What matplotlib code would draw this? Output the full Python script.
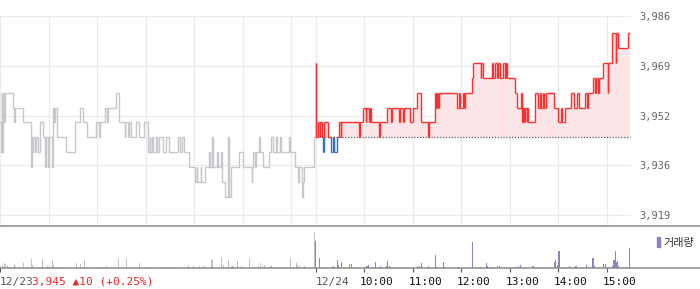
import numpy as np
import matplotlib
matplotlib.use("Agg")
import matplotlib.pyplot as plt
from matplotlib.collections import LineCollection
from matplotlib.lines import Line2D
from matplotlib.patches import Patch
import matplotlib.transforms as mtransforms

# price ticks, minutes from 12/23 09:00 (day 2 starts at 390)
day1_min = [0, 1, 2, 3, 4, 5, 6, 16, 17, 18, 29, 38, 39, 40, 41, 43, 44, 47, 49, 53,
            56, 57, 59, 61, 64, 65, 67, 68, 71, 82, 93, 99, 103, 107, 119, 122, 123, 130, 132, 133,
            144, 147, 154, 155, 158, 160, 162, 168, 172, 178, 183, 185, 186, 188, 189, 193, 194, 197, 201, 205,
            209, 220, 223, 225, 227, 234, 241, 243, 244, 248, 249, 253, 258, 259, 262, 263, 268, 270, 273, 274,
            275, 278, 282, 283, 286, 295, 300, 311, 312, 313, 315, 316, 320, 322, 325, 332, 335, 337, 341, 343,
            346, 347, 357, 359, 365, 368, 370, 373, 375, 376, 388]
day1_px = [3950, 3940, 3960, 3940, 3960, 3950, 3960, 3955, 3950, 3955, 3950, 3935, 3945, 3940, 3945, 3940, 3945, 3940, 3950, 3945,
           3935, 3945, 3935, 3945, 3935, 3955, 3950, 3955, 3945, 3940, 3950, 3955, 3950, 3945, 3950, 3945, 3950, 3955, 3950, 3955,
           3960, 3950, 3945, 3950, 3945, 3950, 3945, 3950, 3945, 3950, 3940, 3945, 3940, 3945, 3940, 3945, 3940, 3945, 3940, 3945,
           3940, 3945, 3940, 3945, 3940, 3935, 3930, 3935, 3930, 3935, 3930, 3935, 3940, 3935, 3945, 3935, 3940, 3935, 3940, 3935,
           3930, 3925, 3945, 3925, 3935, 3940, 3935, 3930, 3935, 3940, 3935, 3940, 3945, 3940, 3935, 3940, 3945, 3940, 3945, 3940,
           3945, 3940, 3945, 3940, 3935, 3930, 3935, 3925, 3930, 3935, 3945]

day2_min = [390, 391, 393, 395, 396, 398, 399, 400, 401, 405, 409, 412, 413, 417, 419, 421, 422, 444, 445, 449,
            452, 453, 456, 457, 459, 468, 470, 478, 483, 485, 493, 495, 498, 500, 507, 511, 516, 520, 529, 530,
            538, 539, 540, 542, 543, 565, 567, 569, 572, 573, 575, 583, 585, 594, 595, 597, 608, 610, 612, 614,
            616, 618, 622, 624, 625, 627, 636, 639, 644, 645, 647, 648, 649, 651, 652, 653, 661, 665, 667, 669,
            671, 673, 675, 685, 690, 694, 695, 698, 706, 710, 713, 716, 723, 725, 727, 733, 735, 737, 739, 741,
            745, 751, 752, 757, 761, 762, 764, 776]
day2_px = [3970, 3945, 3950, 3945, 3950, 3945, 3940, 3945, 3950, 3945, 3940, 3945, 3940, 3945, 3950, 3945, 3950, 3945, 3950, 3955,
           3950, 3955, 3950, 3955, 3950, 3945, 3950, 3955, 3950, 3955, 3950, 3955, 3950, 3955, 3950, 3955, 3960, 3950, 3945, 3950,
           3960, 3955, 3960, 3955, 3960, 3955, 3960, 3955, 3960, 3955, 3960, 3965, 3970, 3965, 3970, 3965, 3970, 3965, 3970, 3965,
           3970, 3965, 3970, 3965, 3970, 3965, 3960, 3955, 3960, 3950, 3955, 3950, 3955, 3950, 3955, 3950, 3960, 3955, 3960, 3955,
           3960, 3955, 3960, 3955, 3950, 3955, 3950, 3955, 3960, 3955, 3960, 3955, 3960, 3955, 3960, 3965, 3960, 3965, 3960, 3965,
           3970, 3960, 3970, 3980, 3970, 3980, 3975, 3980]
day_end = 779
prev_close = 3945

vol1_min = [1, 3, 5, 7, 9, 12, 16, 18, 19, 29, 31, 37, 39, 40, 49, 52, 59, 61, 65, 66,
            71, 94, 97, 99, 104, 119, 132, 147, 156, 173, 179, 204, 214, 230, 233, 236, 239, 243, 247, 251,
            253, 257, 262, 263, 274, 276, 283, 286, 288, 293, 298, 308, 309, 314, 320, 322, 325, 327, 335, 337,
            340, 347, 350, 355, 359, 363, 366, 368, 370, 376, 378, 389]
vol1 = [2.3, 3.3, 4.7, 4, 3.3, 1.3, 1.3, 4, 2.3, 5.3, 1.3, 1.3, 9.3, 3.3, 1.3, 9.3, 2, 2.3, 8.3, 3.3,
        1.3, 5.3, 1.3, 4, 8.3, 1.3, 2.3, 9.7, 10.3, 5.3, 1.3, 1.3, 1.3, 1.3, 3.3, 1.3, 2.3, 1.3, 2.3, 1.3,
        2.3, 1.3, 8, 8.7, 11.3, 3.3, 7.7, 2.3, 2.3, 7.3, 2.3, 9.7, 1.3, 1.3, 2.3, 4.7, 2.3, 3.3, 2.3, 1.3,
        1.3, 1.3, 1.3, 1.3, 10.3, 1.3, 5.3, 3.3, 2.3, 2.3, 1.3, 36.3]
vol2_min = [390, 395, 399, 410, 412, 414, 417, 419, 422, 427, 432, 434, 435, 439, 440, 444, 453, 454, 456, 460,
            464, 470, 478, 479, 481, 483, 489, 495, 516, 518, 521, 530, 538, 540, 548, 550, 566, 567, 584, 594,
            601, 603, 606, 608, 615, 617, 624, 626, 637, 639, 641, 643, 658, 660, 666, 686, 687, 689, 691, 696,
            699, 704, 710, 712, 725, 733, 735, 740, 746, 749, 750, 754, 757, 759, 761, 762, 763, 765, 778]
vol2 = [27.3, 10.3, 1.3, 1.3, 2.3, 1.3, 8.3, 3.3, 6.3, 0.8, 4.3, 4.3, 1.7, 1.3, 1.3, 1.3, 1.7, 2.3, 3.3, 1.3,
        6.3, 2.3, 2.3, 7.3, 1.7, 1.3, 1.3, 1.3, 2.3, 1.7, 4.7, 1.7, 13.3, 1.3, 6.3, 1.3, 1.3, 1.3, 25.7, 1.3,
        4.7, 1.7, 1.3, 1.3, 1.7, 2.3, 1.3, 1.3, 1.3, 1.3, 1.7, 3.3, 1.7, 1.7, 1.3, 6.3, 7.7, 3, 16.7, 1.3,
        1.3, 1.7, 1.3, 2.3, 3.3, 9.7, 1.7, 1.3, 4.3, 4, 1.3, 1.3, 2.3, 7.7, 17.3, 5.7, 6.7, 2.3, 19.7]

ytick_vals = [3919.0, 3935.67, 3952.33, 3969.0, 3985.67]
ytick_labels = ["3,919", "3,936", "3,952", "3,969", "3,986"]
grid_min = [0, 60, 120, 180, 240, 300, 360, 390, 450, 510, 570, 630, 690, 750]
xtick_min = [0, 390, 450, 510, 570, 630, 690, 750]
xtick_labels = ["12/23", "12/24", "10:00", "11:00", "12:00", "13:00", "14:00", "15:00"]
summary = "3,945 ▲10 (+0.25%)"

RED = "#ff2e2e"
BLUE = "#2b6fd6"
GRAY = "#c6c8cc"
PINK = "#fde5e7"
PURPLE = "#9280c4"
MONO = ["DejaVu Sans Mono", "DejaVu Sans"]


def step_xy(t, p, end, start=None):
    xs, ys = [], []
    if start is not None:
        xs.append(t[0]); ys.append(start)
    for i in range(len(t)):
        t1 = t[i + 1] if i + 1 < len(t) else end
        xs += [t[i], t1]
        ys += [p[i], p[i]]
    return np.array(xs, float), np.array(ys, float)


W, H = 700, 289
fig = plt.figure(figsize=(W / 100, H / 100), dpi=100)
ax = fig.add_axes([0, 1 - 225.5 / H, 631 / W, 210 / H])
vax = fig.add_axes([0, 1 - 268 / H, 631 / W, 42 / H])

# main price panel
ax.set_xlim(0, 780)
ax.set_ylim(3915.5, 3985.83)
for s in ax.spines.values():
    s.set_visible(False)
ax.set_xticks(grid_min)
ax.set_xticklabels([])
ax.tick_params(axis="x", length=0)
ax.grid(axis="x", color="#ebebeb", lw=0.9)
ax.yaxis.tick_right()
ax.set_yticks(ytick_vals)
ax.set_yticklabels(ytick_labels, family=MONO, fontsize=7.5, color="#666666")
ax.tick_params(axis="y", length=0, pad=5.8)
ax.hlines(ytick_vals, 0, 780, color="#ebebeb", lw=0.9, zorder=0)

x1, y1 = step_xy(day1_min, day1_px, day2_min[0])
ax.plot(x1, y1, color=GRAY, lw=1.0, zorder=3)

x2, y2 = step_xy(day2_min, day2_px, day_end, start=day1_px[-1])
ax.fill_between(x2, np.maximum(y2, prev_close), prev_close, color=PINK, lw=0, zorder=1)
ax.hlines(prev_close, day2_min[0], day_end, color="#555555", lw=0.9,
          linestyles=(0, (1, 1.3)), zorder=2)
pts = np.column_stack([x2, y2])
segs = np.stack([pts[:-1], pts[1:]], axis=1)
cols = [BLUE if min(a[1], b[1]) < prev_close else RED for a, b in segs]
ax.add_collection(LineCollection(segs, colors=cols, lw=1.0, zorder=3))

# volume panel
vax.set_xlim(0, 780)
vax.set_ylim(0, 42)
for s in vax.spines.values():
    s.set_visible(False)
vax.bar(vol1_min, vol1, width=1.3, color="#c2c2c2", lw=0, antialiased=False)
vax.bar(vol2_min, vol2, width=1.3, color=PURPLE, lw=0, antialiased=False)
vax.set_yticks([])
vax.set_xticks(xtick_min)
vax.set_xticklabels(xtick_labels, family=MONO, fontsize=8, ha="left")
vax.tick_params(axis="x", length=3, width=0.8, color="#555555", pad=3.5)
shift = mtransforms.ScaledTranslation(-4 / 100, 0, fig.dpi_scale_trans)
for i, lab in enumerate(vax.get_xticklabels()):
    if i < 2:
        lab.set_color("#555555")
    else:
        lab.set_color("#111111")
        lab.set_transform(lab.get_transform() + shift)

vax.legend(handles=[Patch(color=PURPLE, label="거래량")], loc="upper left",
           bbox_to_anchor=(651 / W, 1 - 231 / H), bbox_transform=fig.transFigure,
           frameon=False, handlelength=0.3, handleheight=1.1, handletextpad=0.3,
           borderpad=0, labelcolor="#333333",
           prop={"family": ["Noto Sans CJK KR", "DejaVu Sans"], "size": 8})

fig.text(32 / W, 1 - 282 / H, summary, color="#e8262b", family=MONO,
         fontsize=8, ha="left", va="center")

for yy in (225.5, 268):
    fig.add_artist(Line2D([0, 1], [1 - yy / H, 1 - yy / H], transform=fig.transFigure,
                          color="#8a8a8a", lw=1.1))

fig.savefig("out.png", dpi=100, facecolor="white")
